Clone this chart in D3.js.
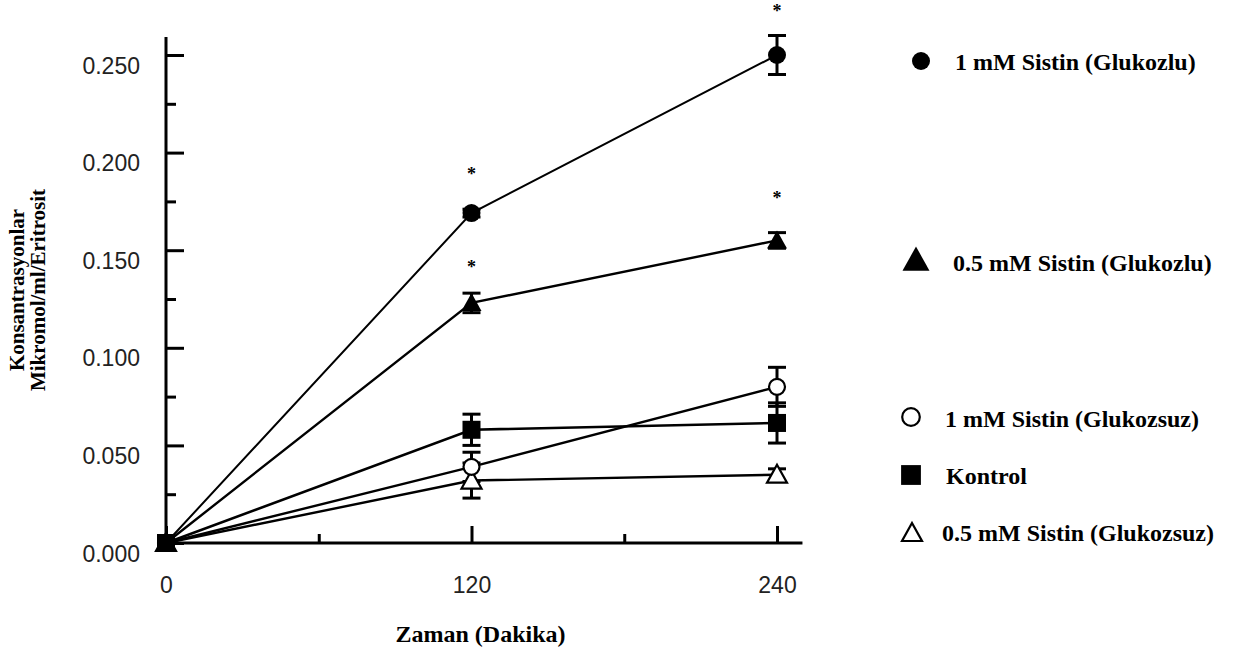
<!DOCTYPE html>
<html><head><meta charset="utf-8">
<script src="https://cdn.jsdelivr.net/npm/d3@7"></script>
<style>body{margin:0;background:#fff}svg{display:block}</style>
</head><body>
<svg id="c" width="1238" height="650"></svg>
<script>
// ---------- data ----------
const times = [0, 120, 240];
const seriesNames = ["1 mM Sistin (Glukozlu)", "0.5 mM Sistin (Glukozlu)", "1 mM Sistin (Glukozsuz)", "Kontrol", "0.5 mM Sistin (Glukozsuz)"];
const glukozlu1 = [0, 0.169, 0.250];
const glukozlu05 = [0, 0.123, 0.155];
const glukozsuz1 = [0, 0.039, 0.080];
const kontrol = [0, 0.058, 0.0615];
const glukozsuz05 = [0, 0.032, 0.035];
const errGlukozlu1 = [0, 0.002, 0.010];
const errGlukozlu05 = [0, 0.005, 0.004];
const errGlukozsuz1 = [0, 0.0075, 0.010];
const errKontrol = [0, 0.008, 0.0103];
const errGlukozsuz05 = [0, 0.009, 0.003];
const yTicks = [0, 0.05, 0.10, 0.15, 0.20, 0.25];
const yTickLabels = ["0.000", "0.050", "0.100", "0.150", "0.200", "0.250"];
const yMinorTicks = [0.025, 0.075, 0.125, 0.175, 0.225];
const xTicks = [0, 120, 240];
const xMinorTicks = [60, 180];
const significant = [[0, 1], [0, 2], [1, 1], [1, 2]]; // [series index, time index]

const values = [glukozlu1, glukozlu05, glukozsuz1, kontrol, glukozsuz05];
const errors = [errGlukozlu1, errGlukozlu05, errGlukozsuz1, errKontrol, errGlukozsuz05];

// ---------- styling / layout ----------
const markerStyle = [
  {shape: "circle", filled: true},
  {shape: "triangle", filled: true},
  {shape: "circle", filled: false},
  {shape: "square", filled: true},
  {shape: "triangle", filled: false}
];
const legendLayout = [
  {mx: 921, my: 61, tx: 955, ty: 62, s: 1.0},
  {mx: 916, my: 260, tx: 953, ty: 263, s: 1.35},
  {mx: 911, my: 417, tx: 945, ty: 419, s: 1.1},
  {mx: 911, my: 475, tx: 946, ty: 476, s: 1.1},
  {mx: 912, my: 533, tx: 942, ty: 533, s: 1.0}
];
const starOffsets = [-33, -38, -30, -36];

const svg = d3.select("#c");
const x = d3.scaleLinear().domain([0, 240]).range([166, 777]);
const y = d3.scaleLinear().domain([0, 0.25]).range([543, 55]);

const serif = "'Liberation Serif','Times New Roman',serif";
const narrow = "'Liberation Sans','Arial',sans-serif";

// ---------- axes ----------
const gy = svg.append("g").attr("transform", `translate(${x(0)},0)`);
gy.call(d3.axisLeft(y).tickValues(yTicks).tickFormat((d, i) => yTickLabels[i]).tickSize(-18).tickPadding(26));
gy.select(".domain").remove();
gy.selectAll(".tick line").attr("stroke", "#000").attr("stroke-width", 3);
gy.selectAll(".tick text").attr("font-family", narrow).attr("font-size", 23).attr("fill", "#222").attr("dy", "18");
const gym = svg.append("g").attr("transform", `translate(${x(0)},0)`);
gym.call(d3.axisLeft(y).tickValues(yMinorTicks).tickFormat("").tickSize(-10));
gym.select(".domain").remove();
gym.selectAll(".tick line").attr("stroke", "#000").attr("stroke-width", 3);

const gx = svg.append("g").attr("transform", `translate(0,${y(0)})`);
gx.call(d3.axisBottom(x).tickValues(xTicks).tickFormat(d3.format("d")).tickSize(-17).tickPadding(34));
gx.select(".domain").remove();
gx.selectAll(".tick line").attr("stroke", "#000").attr("stroke-width", 3);
gx.selectAll(".tick text").attr("font-family", narrow).attr("font-size", 23).attr("fill", "#222");
const gxm = svg.append("g").attr("transform", `translate(0,${y(0)})`);
gxm.call(d3.axisBottom(x).tickValues(xMinorTicks).tickFormat("").tickSize(-9));
gxm.select(".domain").remove();
gxm.selectAll(".tick line").attr("stroke", "#000").attr("stroke-width", 3);

// axis lines
svg.append("line").attr("x1", x(0)).attr("x2", x(0)).attr("y1", y(0) + 1.5).attr("y2", y(0.2592))
  .attr("stroke", "#000").attr("stroke-width", 3);
svg.append("line").attr("x1", x(0) - 1.5).attr("x2", x(250)).attr("y1", y(0)).attr("y2", y(0))
  .attr("stroke", "#000").attr("stroke-width", 3);

// axis titles
svg.append("text").attr("x", x(120) + 9).attr("y", 642).attr("text-anchor", "middle")
  .attr("font-family", serif).attr("font-weight", "bold").attr("font-size", 24).text("Zaman (Dakika)");
const yt = svg.append("text").attr("transform", "translate(0,290) rotate(-90)")
  .attr("text-anchor", "middle").attr("font-family", serif).attr("font-weight", "bold").attr("font-size", 21);
yt.append("tspan").attr("x", 0).attr("y", 24).text("Konsantrasyonlar");
yt.append("tspan").attr("x", 0).attr("y", 45).text("Mikromol/ml/Eritrosit");

// ---------- data marks ----------
const line = d3.line().x((d, i) => x(times[i])).y(d => y(d));
const lineWidths = [2, 2.4, 2.4, 2.6, 2.4];
values.forEach((vals, si) => {
  svg.append("path").attr("d", line(vals)).attr("fill", "none").attr("stroke", "#000").attr("stroke-width", lineWidths[si]);
});

// error bars
values.forEach((vals, si) => {
  vals.forEach((v, i) => {
    const e = errors[si][i];
    if (!e) return;
    const g = svg.append("g").attr("stroke", "#000").attr("stroke-width", 3);
    g.append("line").attr("x1", x(times[i])).attr("x2", x(times[i])).attr("y1", y(v - e)).attr("y2", y(v + e));
    [v - e, v + e].forEach(b => g.append("line").attr("x1", x(times[i]) - 9).attr("x2", x(times[i]) + 9).attr("y1", y(b)).attr("y2", y(b)));
  });
});

function marker(g, cx, cy, st, s) {
  const fill = st.filled ? "#000" : "#fff";
  if (st.shape === "circle") {
    g.append("circle").attr("cx", cx).attr("cy", cy).attr("r", (st.filled ? 9 : 8) * s)
      .attr("fill", fill).attr("stroke", "#000").attr("stroke-width", st.filled ? 0 : 2.2);
  } else if (st.shape === "square") {
    const h = 9 * s;
    g.append("rect").attr("x", cx - h).attr("y", cy - h).attr("width", 2 * h).attr("height", 2 * h).attr("fill", fill);
  } else {
    const w = 10 * s, t = 10 * s, b = 8 * s;
    g.append("path").attr("d", `M${cx},${cy - t}L${cx + w},${cy + b}L${cx - w},${cy + b}Z`)
      .attr("fill", fill).attr("stroke", "#000").attr("stroke-width", st.filled ? 0 : 2.2).attr("stroke-linejoin", "miter");
  }
}

const drawOrder = [4, 2, 0, 1, 3];
drawOrder.forEach(si => {
  values[si].forEach((v, i) => marker(svg.append("g"), x(times[i]), y(v), markerStyle[si], 1));
});

// significance stars
significant.forEach(([si, ti], k) => {
  svg.append("text").attr("x", x(times[ti])).attr("y", y(values[si][ti]) + starOffsets[k]).attr("text-anchor", "middle")
    .attr("font-family", serif).attr("font-weight", "bold").attr("font-size", 18).text("*");
});

// ---------- legend ----------
seriesNames.forEach((name, si) => {
  const L = legendLayout[si];
  marker(svg.append("g"), L.mx, L.my, markerStyle[si], L.s);
  svg.append("text").attr("x", L.tx).attr("y", L.ty + 8).attr("font-family", serif).attr("font-weight", "bold")
    .attr("font-size", 24).text(name);
});
</script>
</body></html>
